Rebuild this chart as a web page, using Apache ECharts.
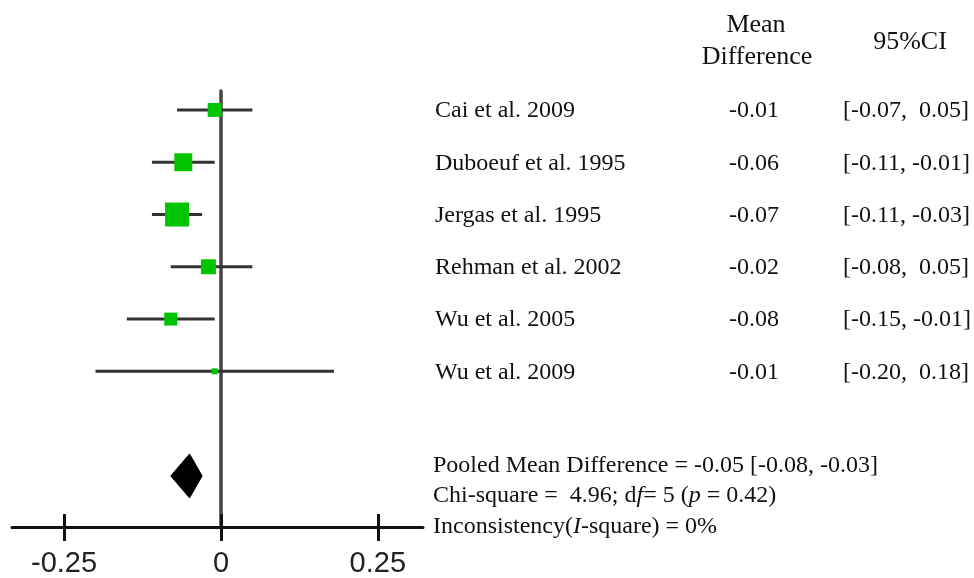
<!DOCTYPE html>
<html>
<head>
<meta charset="utf-8">
<script src="https://cdn.jsdelivr.net/npm/echarts@6.0.0/dist/echarts.min.js"></script>
<style>
html,body{margin:0;padding:0;background:#fff;}
#main{width:974px;height:578px;}
</style>
</head>
<body>
<div id="main"></div>
<script>
// ---- data ----
const studies = ['Cai et al. 2009', 'Duboeuf et al. 1995', 'Jergas et al. 1995', 'Rehman et al. 2002', 'Wu et al. 2005', 'Wu et al. 2009'];
const meanDiff = [-0.01, -0.06, -0.07, -0.02, -0.08, -0.01];
const ciLow = [-0.07, -0.11, -0.11, -0.08, -0.15, -0.20];
const ciHigh = [0.05, -0.01, -0.03, 0.05, -0.01, 0.18];
const weights = [12.8, 21.2, 37.7, 14.7, 11.1, 2.4];
const pooledMean = -0.05;
const pooledLow = -0.08;
const pooledHigh = -0.03;
const chiSquare = 4.96;
const dfValue = 5;
const pValue = 0.42;
const iSquare = 0;
const xTicks = [-0.25, 0, 0.25];
const xTickLabels = ['-0.25', '0', '0.25'];
const headers = ['Mean', 'Difference', '95%CI'];

// ---- chart ----
const chart = echarts.init(document.getElementById('main'), null, {renderer: 'canvas'});
const pooledRow = studies.length + 1;
const xMin = -0.333, xMax = 0.322;
const fmt = v => v.toFixed(2);

const tickLine = {color: '#111', width: 3};
chart.setOption({
  animation: false,
  backgroundColor: '#fff',
  grid: {left: 12, width: 411, top: 91, height: 437},
  xAxis: [{
    type: 'value', min: xMin, max: xMax, position: 'bottom',
    axisLine: {show: true, onZero: false, lineStyle: {color: '#111', width: 3}},
    axisTick: {show: true, customValues: xTicks, length: 14, inside: false, lineStyle: tickLine},
    axisLabel: {
      show: true, customValues: xTicks, margin: 22,
      formatter: v => xTickLabels[xTicks.indexOf(v)] || '',
      fontFamily: 'Liberation Sans', fontSize: 29, color: '#222'
    },
    splitLine: {show: false}
  }, {
    type: 'value', min: xMin, max: xMax, position: 'top', offset: -437,
    axisLine: {show: false, onZero: false},
    axisTick: {show: true, customValues: xTicks, length: 14, inside: false, lineStyle: tickLine},
    axisLabel: {show: false},
    splitLine: {show: false}
  }],
  yAxis: {
    type: 'value', inverse: true, min: -0.3626, max: 7.977,
    axisLine: {show: true, onZero: true, lineStyle: {color: '#444', width: 3.5}},
    axisTick: {show: false}, axisLabel: {show: false}, splitLine: {show: false}
  },
  series: [{
    type: 'custom', name: 'ci', z: 3,
    encode: {x: [0, 1], y: 2},
    data: studies.map((s, i) => [ciLow[i], ciHigh[i], i]),
    renderItem: (params, api) => {
      const a = api.coord([api.value(0), api.value(2)]);
      const b = api.coord([api.value(1), api.value(2)]);
      return {type: 'line', shape: {x1: a[0], y1: a[1], x2: b[0], y2: b[1]},
        style: {stroke: '#333', lineWidth: 3}};
    }
  }, {
    type: 'scatter', name: 'estimate', z: 4,
    symbol: 'rect',
    symbolSize: v => 3.9 * Math.sqrt(v[2]),
    itemStyle: {color: '#00c400', opacity: 1},
    data: studies.map((s, i) => [meanDiff[i], i, weights[i]])
  }, {
    type: 'custom', name: 'pooled', z: 4,
    encode: {x: [0, 1, 2], y: 3},
    data: [[pooledLow, pooledMean, pooledHigh, pooledRow]],
    renderItem: (params, api) => {
      const y = api.value(3);
      const lo = api.coord([api.value(0), y]);
      const mid = api.coord([api.value(1), y]);
      const hi = api.coord([api.value(2), y]);
      const h = 22;
      return {type: 'polygon',
        shape: {points: [[lo[0], lo[1]], [mid[0], mid[1] - h], [hi[0], hi[1]], [mid[0], mid[1] + h]]},
        style: {fill: '#000', stroke: '#000', lineWidth: 1}};
    }
  }]
});

// ---- text columns, aligned to the rows of the y axis ----
const rowY = i => chart.convertToPixel({yAxisIndex: 0}, i);
const serif = 'Liberation Serif';
const txt = (text, x, y, size, align, rich) => ({
  type: 'text', x: x, y: y, silent: true,
  style: Object.assign({text: text, fontFamily: serif, fontSize: size, fill: '#111',
    align: align, verticalAlign: 'middle'}, rich ? {rich: rich} : {})
});
const graphics = [];
graphics.push(txt(headers[0], 756, 25, 26, 'center'));
graphics.push(txt(headers[1], 757, 57, 26, 'center'));
graphics.push(txt(headers[2], 910, 42, 26, 'center'));
studies.forEach((s, i) => {
  const y = rowY(i) + 1;
  graphics.push(txt(s, 435, y, 24, 'left'));
  graphics.push(txt(fmt(meanDiff[i]), 754, y, 24, 'center'));
  const hiStr = (ciHigh[i] >= 0 ? ' ' : '') + fmt(ciHigh[i]);
  graphics.push(txt('[' + fmt(ciLow[i]) + ', ' + hiStr + ']', 843, y, 24, 'left'));
});
const it = {i: {fontStyle: 'italic', fontFamily: serif, fontSize: 24, fill: '#111'}};
graphics.push(txt('Pooled Mean Difference = ' + fmt(pooledMean) + ' [' + fmt(pooledLow) + ', ' + fmt(pooledHigh) + ']', 433, 466, 24, 'left'));
graphics.push(txt('Chi-square =  ' + chiSquare.toFixed(2) + '; d{i|f}= ' + dfValue + ' ({i|p} = ' + pValue.toFixed(2) + ')', 433, 496, 24, 'left', it));
graphics.push(txt('Inconsistency({i|I}-square) = ' + iSquare + '%', 433, 527, 24, 'left', it));
chart.setOption({graphic: graphics});
</script>
</body>
</html>
